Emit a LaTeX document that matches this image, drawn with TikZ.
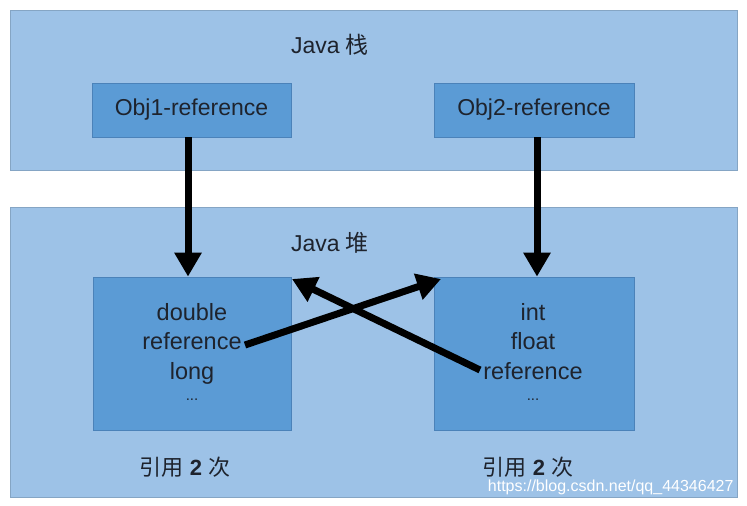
\documentclass[tikz,border=0pt]{standalone}
\usepackage{fontspec}
\setmainfont{Liberation Sans}
\newfontfamily\cjk{Noto Sans CJK SC}
\usetikzlibrary{arrows.meta}
\definecolor{band}{RGB}{157,194,231}
\definecolor{boxc}{RGB}{91,155,213}
\definecolor{boxb}{RGB}{75,130,185}
\definecolor{txt}{RGB}{30,35,45}
\begin{document}
\begin{tikzpicture}[x=1pt,y=-1pt,
  bandr/.style={fill=band,draw=band!85!black,line width=0.8pt},
  objbox/.style={fill=boxc,draw=boxb,line width=0.8pt,inner sep=0pt},
  lbl/.style={text=txt,font=\fontsize{23}{26}\selectfont},
  big/.style={text=txt,font=\fontsize{23.5}{29.5}\selectfont,align=center},
  arr/.style={line width=7pt,-{Triangle[width=26pt,length=24pt]}}]
\useasboundingbox (0,0) rectangle (747,506);
\fill[white] (0,0) rectangle (747,506);
\draw[bandr] (10,10) rectangle (737,170);
\draw[bandr] (10,207) rectangle (737,497);
\node[lbl] (stack) at (330,45) {Java {\cjk 栈}};
\node[lbl] (heap) at (330,243) {Java {\cjk 堆}};
\node[objbox,minimum width=199pt,minimum height=54pt,lbl] (o1) at (191.5,110) {Obj1-reference};
\node[objbox,minimum width=200pt,minimum height=54pt,lbl] (o2) at (534,110) {Obj2-reference};
\node[objbox,minimum width=198pt,minimum height=153pt] (h1) at (192,353.5) {};
\node[objbox,minimum width=200pt,minimum height=153pt] (h2) at (534,353.5) {};
\node[big] (t1) at (192,352) {double\\reference\\long\\[-8pt]{\fontsize{15}{16}\selectfont ...}};
\node[big] (t2) at (533,352) {int\\float\\reference\\[-8pt]{\fontsize{15}{16}\selectfont ...}};
\node[lbl,font=\fontsize{22}{26}\selectfont] (c1) at (185,467) {{\cjk 引用} \textbf{2} {\cjk 次}};
\node[lbl,font=\fontsize{22}{26}\selectfont] (c2) at (528,467) {{\cjk 引用} \textbf{2} {\cjk 次}};
\node[text=white,font=\fontsize{16}{18}\selectfont,anchor=east] (wm) at (737,487) {https://blog.csdn.net/qq\_44346427};
\coordinate (s1) at (245,345);
\coordinate (s2) at (480,370);
\draw[arr] (o1.south -| 188,0) -- (h1.north -| 188,0);
\draw[arr] (o2.south -| 537,0) -- (h2.north -| 537,0);
\draw[arr] (s1) -- (441,279);
\draw[arr] (s2) -- (292,279);
\end{tikzpicture}
\end{document}
